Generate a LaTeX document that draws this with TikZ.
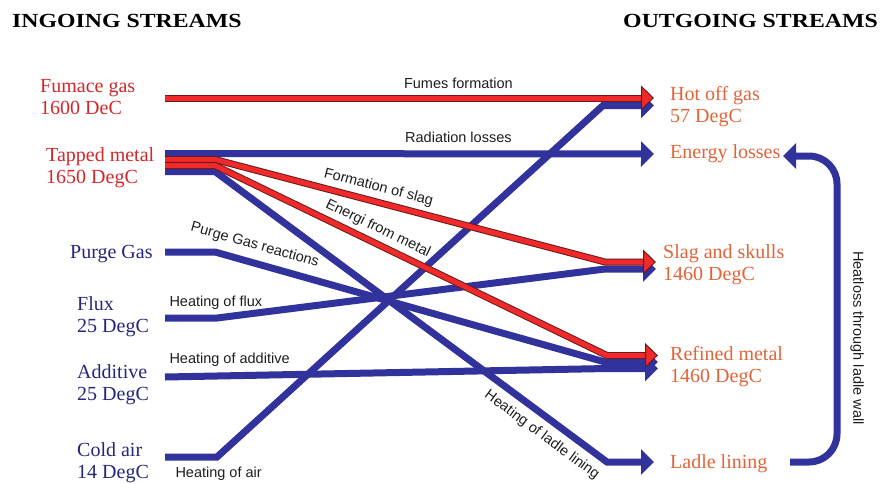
\documentclass[tikz,border=0pt]{standalone}
\usepackage{fontspec}
\setmainfont{Liberation Serif}
\newfontfamily\headfont[FakeStretch=1.19]{Liberation Serif}
\newfontfamily\flowfont{Liberation Sans}
\usetikzlibrary{arrows.meta,positioning}
\definecolor{flowblue}{HTML}{32329C}
\definecolor{flowred}{HTML}{F02A2A}
\definecolor{rededge}{HTML}{6A1A1A}
\definecolor{inred}{HTML}{D0282C}
\definecolor{innavy}{HTML}{26267A}
\definecolor{outorange}{HTML}{E0643A}
\definecolor{labelgray}{HTML}{1E1E1E}

\tikzset{
  blueflow/.style={draw=flowblue, line width=7pt},
  redflow/.style={draw=rededge, line width=1pt, double=flowred, double distance=5pt},
  bluetip/.style={-{Triangle[length=13pt,width=25pt]}},
  redtip/.style={-{Triangle[length=13pt,width=25pt,fill=flowred,color=rededge]}},
  stream/.style={font=\fontsize{20}{21.5}\selectfont, align=left, inner sep=0pt, anchor=base west},
  heading/.style={font=\headfont\bfseries\fontsize{20}{22}\selectfont, inner sep=0pt},
  flowlabel/.style={font=\flowfont\fontsize{14.5}{16}\selectfont, text=labelgray, inner sep=1pt}
}

\begin{document}
\begin{tikzpicture}[x=1pt, y=-1pt]
  \useasboundingbox[fill=white] (0,0) rectangle (881,483);

  % headings
  \node[heading, anchor=base west] (ingoing) at (12,27) {INGOING STREAMS};
  \node[heading, anchor=base east] (outgoing) at (878,27) {OUTGOING STREAMS};

  % ingoing streams (base = last line)
  \node[stream, text=inred] (furnace) at (40,114) {Fumace gas\\1600 DeC};
  \node[stream, text=inred] (tapped) at (46,183) {Tapped metal\\1650 DegC};
  \node[stream, text=innavy] (purge) at (70,258) {Purge Gas};
  \node[stream, text=innavy] (flux) at (77,332) {Flux\\25 DegC};
  \node[stream, text=innavy] (additive) at (77,400) {Additive\\25 DegC};
  \node[stream, text=innavy] (coldair) at (77,478) {Cold air\\14 DegC};

  % outgoing streams
  \node[stream, text=outorange] (hotgas) at (670,122) {Hot off gas\\57 DegC};
  \node[stream, text=outorange] (losses) at (670,158) {Energy losses};
  \node[stream, text=outorange] (slag) at (663,280) {Slag and skulls\\1460 DegC};
  \node[stream, text=outorange] (refined) at (670,382) {Refined metal\\1460 DegC};
  \node[stream, text=outorange] (lining) at (670,468) {Ladle lining};

  % ports where the flows start and end
  \coordinate (furnIn) at (165,98);
  \coordinate (tapA) at (165,153.5);
  \coordinate (tapB) at (165,159.5);
  \coordinate (tapC) at (165,165.5);
  \coordinate (tapD) at (165,171.5);
  \coordinate (purgeIn) at (165,252);
  \coordinate (fluxIn) at (165,318);
  \coordinate (addIn) at (165,377);
  \coordinate (airIn) at (165,457);
  \coordinate (hotR) at (654,98);
  \coordinate (hotB) at (654,105.5);
  \coordinate (lossIn) at (654,154);
  \coordinate (slagR) at (656,262);
  \coordinate (slagB) at (656,269);
  \coordinate (refR) at (658,355.5);
  \coordinate (refP) at (658,362);
  \coordinate (refA) at (658,368.5);
  \coordinate (liningIn) at (654,462);
  \coordinate (liningOut) at (790,462);
  \coordinate (wallTop) at (837,156);
  \coordinate (lossBack) at (783,156);

  % blue flows
  \draw[blueflow, bluetip] (tapA) -- node[flowlabel, above=7pt, pos=0.6] (lblrad) {Radiation losses} (lossIn);
  \draw[blueflow, bluetip] (tapD) -- ++(50,0)
    -- node[flowlabel, sloped, below=6pt, pos=0.86] (lblladle) {Heating of ladle lining} ([xshift=-47pt]liningIn) -- (liningIn);
  \draw[blueflow, bluetip] (purgeIn) -- ++(50,0)
    -- node[flowlabel, sloped, above=6pt, pos=0.09] (lblpurge) {Purge Gas reactions} ([xshift=-53pt]refP) -- (refP);
  \draw[blueflow, bluetip] (fluxIn)
    -- node[flowlabel, pos=0, anchor=south west, yshift=4pt] (lblflux) {Heating of flux} ++(52,0)
    -- ([xshift=-51pt]slagB) -- (slagB);
  \draw[blueflow, bluetip] (addIn)
    -- node[flowlabel, pos=0, anchor=south west, yshift=6pt] (lbladd) {Heating of additive} ([xshift=-51pt]refA) -- (refA);
  \draw[blueflow, bluetip] (airIn)
    -- node[flowlabel, pos=0, anchor=north west, xshift=6pt, yshift=-5pt] (lblair) {Heating of air} ++(52,0)
    -- ([xshift=-51pt]hotB) -- (hotB);

  % red flows
  \draw[redflow, redtip] (furnIn) -- node[flowlabel, above=8pt, pos=0.6] (lblfumes) {Fumes formation} (hotR);
  \draw[redflow, redtip] (tapB) -- ++(50,0)
    -- node[flowlabel, sloped, above=6pt, pos=0.41] (lblslag) {Formation of slag} ([xshift=-51pt]slagR) -- (slagR);
  \draw[redflow, redtip] (tapC) -- ++(50,0)
    -- node[flowlabel, sloped, above=6pt, pos=0.40] (lblmetal) {Energi from metal} ([xshift=-51pt]refR) -- (refR);

  % heat lost through the ladle wall
  \draw[blueflow, bluetip, rounded corners=28pt] (liningOut) -| (wallTop) -- (lossBack);
  \node[flowlabel, rotate=-90] (wallnote) at (857,338) {Heatloss through ladle wall};
\end{tikzpicture}
\end{document}
